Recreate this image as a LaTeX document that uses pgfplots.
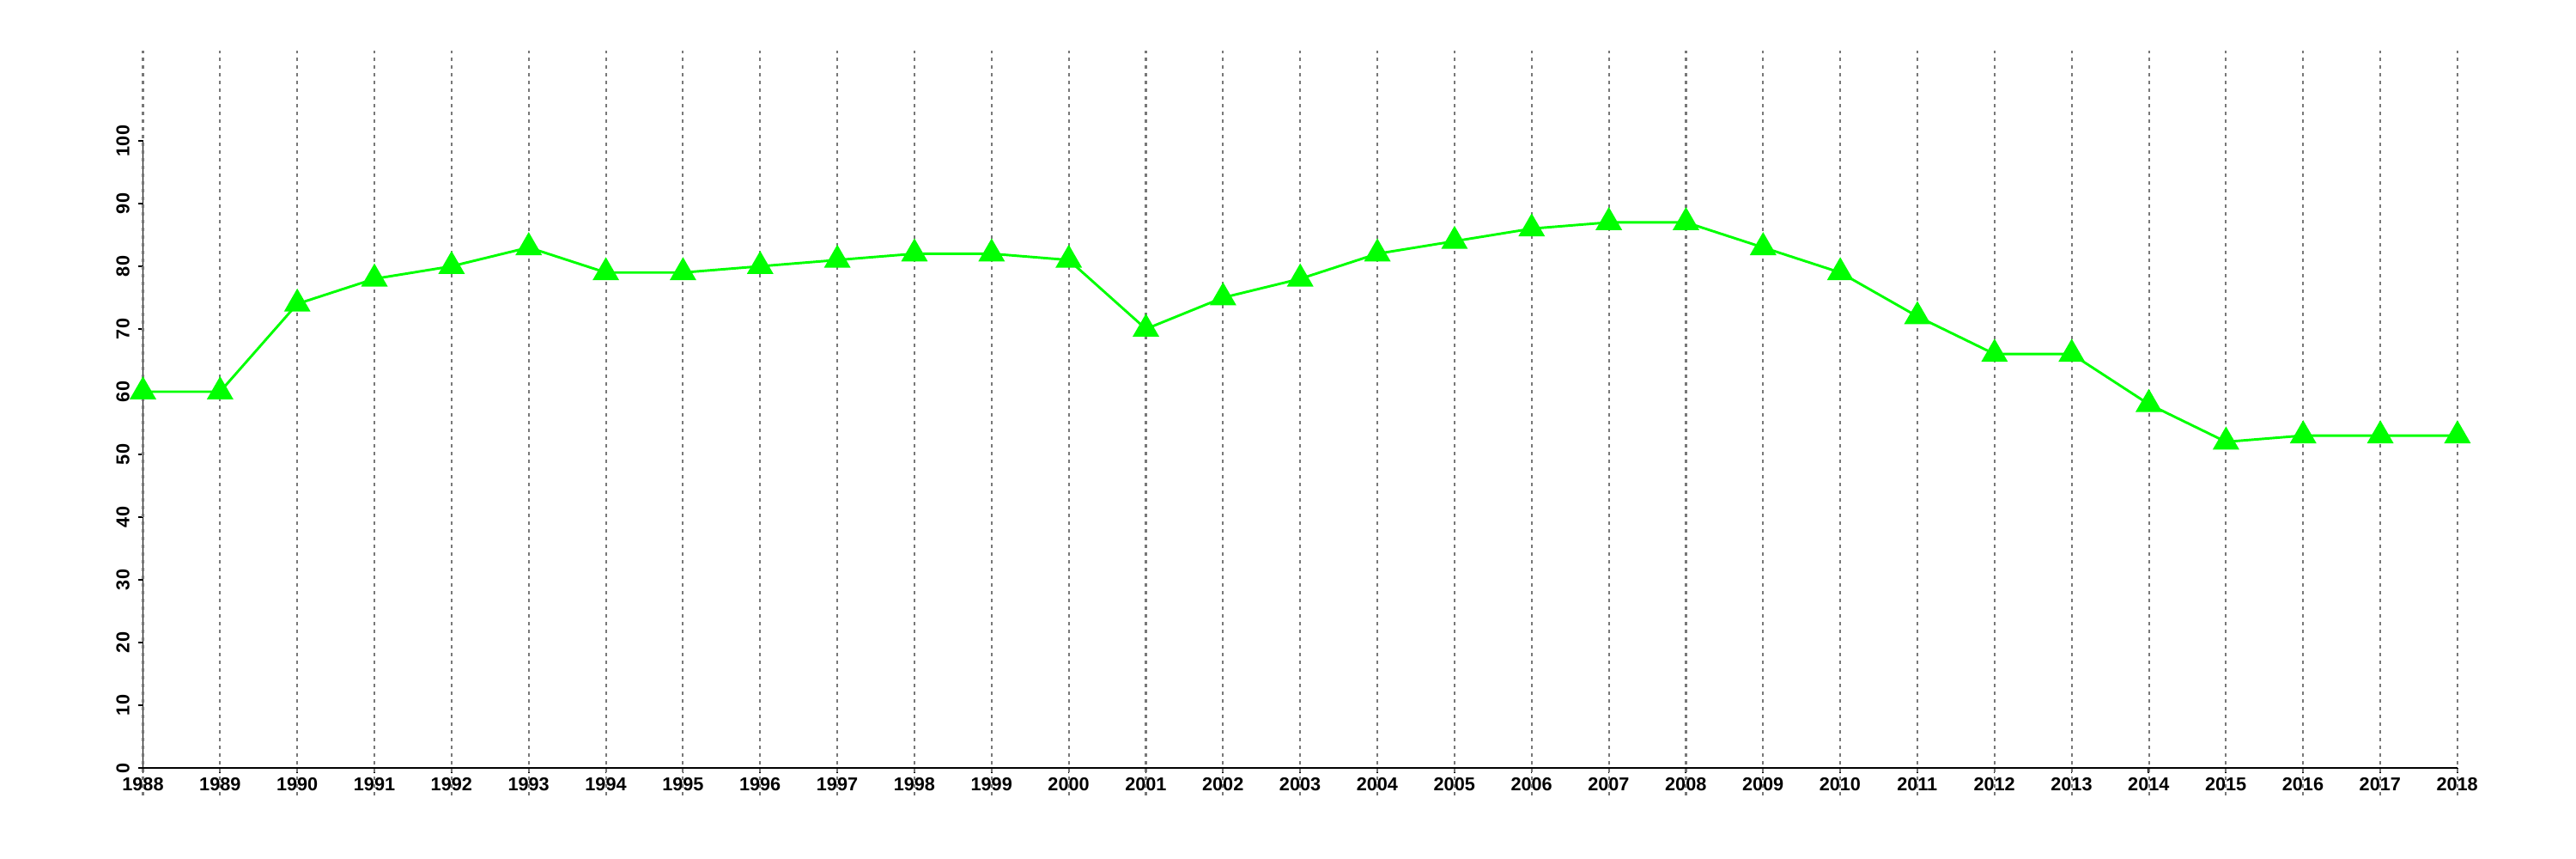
\documentclass[border=0pt]{standalone}
\usepackage{fontspec}
\setmainfont{Liberation Sans}
\usepackage{pgfplots}
\pgfplotsset{compat=1.18}
\definecolor{pgreen}{RGB}{0,255,0}
\definecolor{gridgray}{RGB}{120,120,120}
\begin{document}
\begin{tikzpicture}
\useasboundingbox (0,0) rectangle (720pt,240pt);
\begin{axis}[
  at={(39.96pt,25.44pt)}, anchor=south west,
  scale only axis, width=646.9pt, height=175.2pt,
  xmin=1988, xmax=2018, ymin=0, ymax=100,
  axis lines=left,
  axis line style={-, line width=0.4pt, black},
  clip=false,
  xtick={1988,1989,...,2018},
  ytick={0,10,...,100},
  tick align=outside,
  major tick length=1.44pt,
  tick style={line width=0.4pt, black},
  /pgf/number format/assume math mode=true,
  /pgf/number format/1000 sep={},
  tick label style={font=\fontsize{5.2}{6}\selectfont\bfseries},
  xticklabel style={inner sep=1.2pt},
  yticklabel style={rotate=90, anchor=south, inner sep=2.1pt},
]
\pgfplotsinvokeforeach{1988,...,2018}{
  \draw[gridgray, line width=0.5pt, dash pattern=on 1pt off 1.16pt] (axis cs:#1,-4.4) -- (axis cs:#1,114.4);
}
\addplot[pgreen, line width=0.7pt, mark=triangle*, mark size=3.6pt, mark options={fill=pgreen, draw=pgreen}] coordinates {
(1988,60) (1989,60) (1990,74) (1991,78) (1992,80) (1993,83) (1994,79) (1995,79)
(1996,80) (1997,81) (1998,82) (1999,82) (2000,81) (2001,70) (2002,75) (2003,78)
(2004,82) (2005,84) (2006,86) (2007,87) (2008,87) (2009,83) (2010,79) (2011,72)
(2012,66) (2013,66) (2014,58) (2015,52) (2016,53) (2017,53) (2018,53)
};
\end{axis}
\end{tikzpicture}
\end{document}
